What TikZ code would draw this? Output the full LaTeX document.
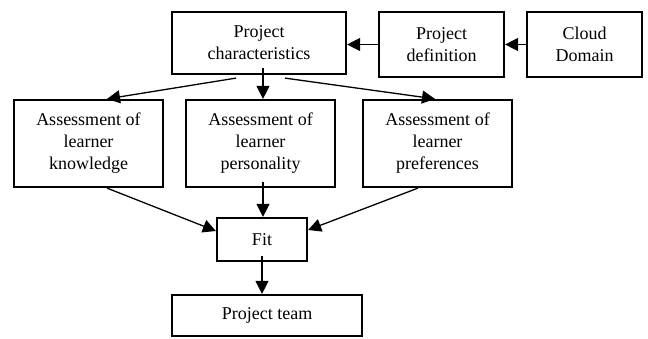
\documentclass[tikz,border=0pt]{standalone}
\usepackage{fontspec}
\setmainfont{Liberation Serif}
\usetikzlibrary{arrows.meta}
\begin{document}
\begin{tikzpicture}[x=1pt,y=-1pt,
  box/.style={draw,line width=2.2pt,inner sep=0pt,align=center,
    font=\fontsize{18}{22}\selectfont},
  conn/.style={line width=1.3pt,-{Triangle[length=13pt,width=13pt]}}]
\useasboundingbox (0,0) rectangle (648,338);
\node[box,minimum width=174pt,minimum height=62pt] (pc) at (259,43) {Project\\characteristics};
\node[box,minimum width=125pt,minimum height=65pt] (pd) at (441.5,44.5) {Project\\definition};
\node[box,minimum width=115pt,minimum height=65pt] (cd) at (584.5,44.5) {Cloud\\Domain};
\node[box,minimum width=149pt,minimum height=87pt] (ak) at (88.5,143.5) {Assessment of\\learner\\knowledge};
\node[box,minimum width=149pt,minimum height=87pt] (ap) at (260.5,143.5) {Assessment of\\learner\\personality};
\node[box,minimum width=149pt,minimum height=87pt] (apr) at (437.5,143.5) {Assessment of\\learner\\preferences};
\node[box,minimum width=90pt,minimum height=43pt] (fit) at (262,239.5) {Fit};
\node[box,minimum width=190pt,minimum height=41pt] (team) at (267,315.5) {Project team};
\draw[conn] (pd.west) -- (pd.west -| pc.east);
\draw[conn] (cd.west) -- (pd.east);
\draw[conn] ([xshift=-23pt,yshift=-3pt]pc.south) -- ([xshift=18.5pt]ak.north);
\draw[conn] ([xshift=4pt,yshift=7pt]pc.south) -- ([xshift=2.5pt]ap.north);
\draw[conn] ([xshift=26pt,yshift=-3pt]pc.south) -- ([xshift=-2.5pt]apr.north);
\draw[conn] ([xshift=18.5pt]ak.south) -- ([yshift=8.5pt]fit.west);
\draw[conn] ([xshift=2.5pt,yshift=6pt]ap.south) -- ([xshift=1pt]fit.north);
\draw[conn] ([xshift=-19.5pt]apr.south) -- ([yshift=9.5pt]fit.east);
\draw[conn] ([yshift=6pt]fit.south) -- ([xshift=-5pt]team.north);
\end{tikzpicture}
\end{document}
